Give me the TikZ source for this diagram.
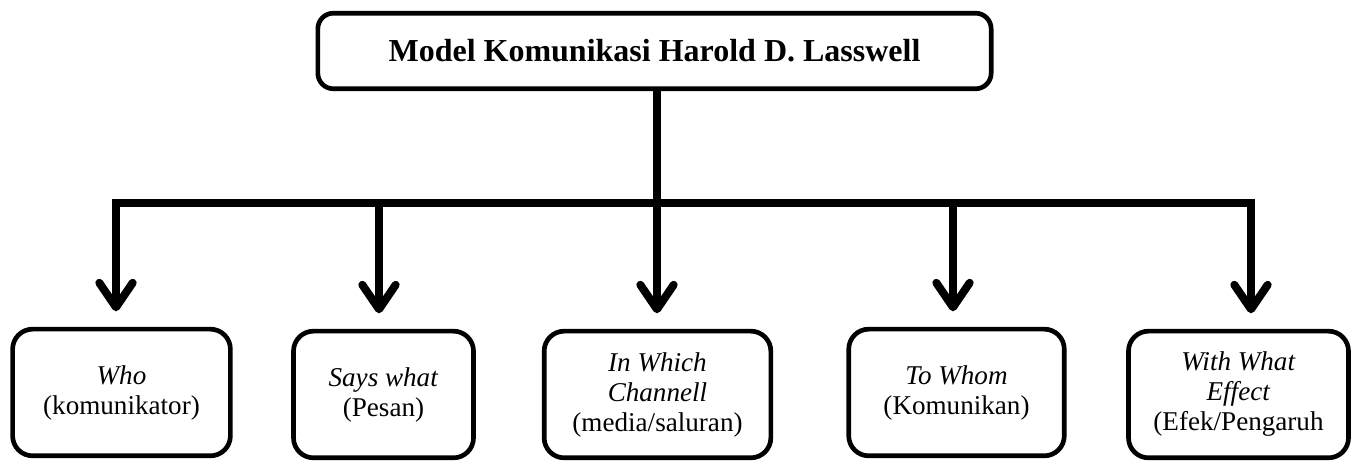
\documentclass[tikz,border=0pt]{standalone}
\usepackage{fontspec}
\setmainfont{Liberation Serif}
\usetikzlibrary{arrows.meta}

\begin{document}
\begin{tikzpicture}[
  x=0.45pt, y=-0.45pt,
  judul/.style={draw, line width=2.1pt, rounded corners=7pt,
              minimum width=303pt, minimum height=34pt, align=center,
              font=\fontsize{14.4}{16}\selectfont\bfseries},
  kotak/.style={draw, line width=2.1pt, rounded corners=9pt,
              minimum height=57pt, align=center, inner sep=2pt,
              font=\fontsize{12.2}{13.5}\selectfont},
  garis/.style={line width=3.6pt},
  arr/.style={line width=3.6pt, -{Straight Barb[length=11pt, width=15pt, round]},
              shorten >=7pt}
]
\useasboundingbox (0,0) rectangle (1360,461);
\node[judul] (judul) at (654.5,51) {Model Komunikasi Harold D. Lasswell};
\node[kotak, minimum width=98pt]  (who)     at (121.5,392.5) {\textit{Who}\\(komunikator)};
\node[kotak, minimum width=81pt]  (says)    at (383.5,394.5) {\textit{Says what}\\(Pesan)};
\node[kotak, minimum width=102pt] (channel) at (657.5,394.5) {\textit{In Which}\\\textit{Channell}\\(media/saluran)};
\node[kotak, minimum width=97pt]  (whom)    at (956.5,392.5) {\textit{To Whom}\\(Komunikan)};
\node[kotak, minimum width=99pt]  (effect)  at (1238.5,394.5) {\textit{With What}\\\textit{Effect}\\(Efek/Pengaruh};
% percabangan
\coordinate (bus) at (657,203);
\coordinate (j1) at (116,203);
\coordinate (j2) at (379,203);
\coordinate (j3) at (657,203);
\coordinate (j4) at (953,203);
\coordinate (j5) at (1251,203);
\draw[garis] (bus |- judul.south) -- (bus);
\draw[garis, line cap=rect] (j1) -- (j5);
\draw[arr] (j1) -- (j1 |- who.north);
\draw[arr] (j2) -- (j2 |- says.north);
\draw[arr] (j3) -- (j3 |- channel.north);
\draw[arr] (j4) -- (j4 |- whom.north);
\draw[arr] (j5) -- (j5 |- effect.north);
\end{tikzpicture}
\end{document}
